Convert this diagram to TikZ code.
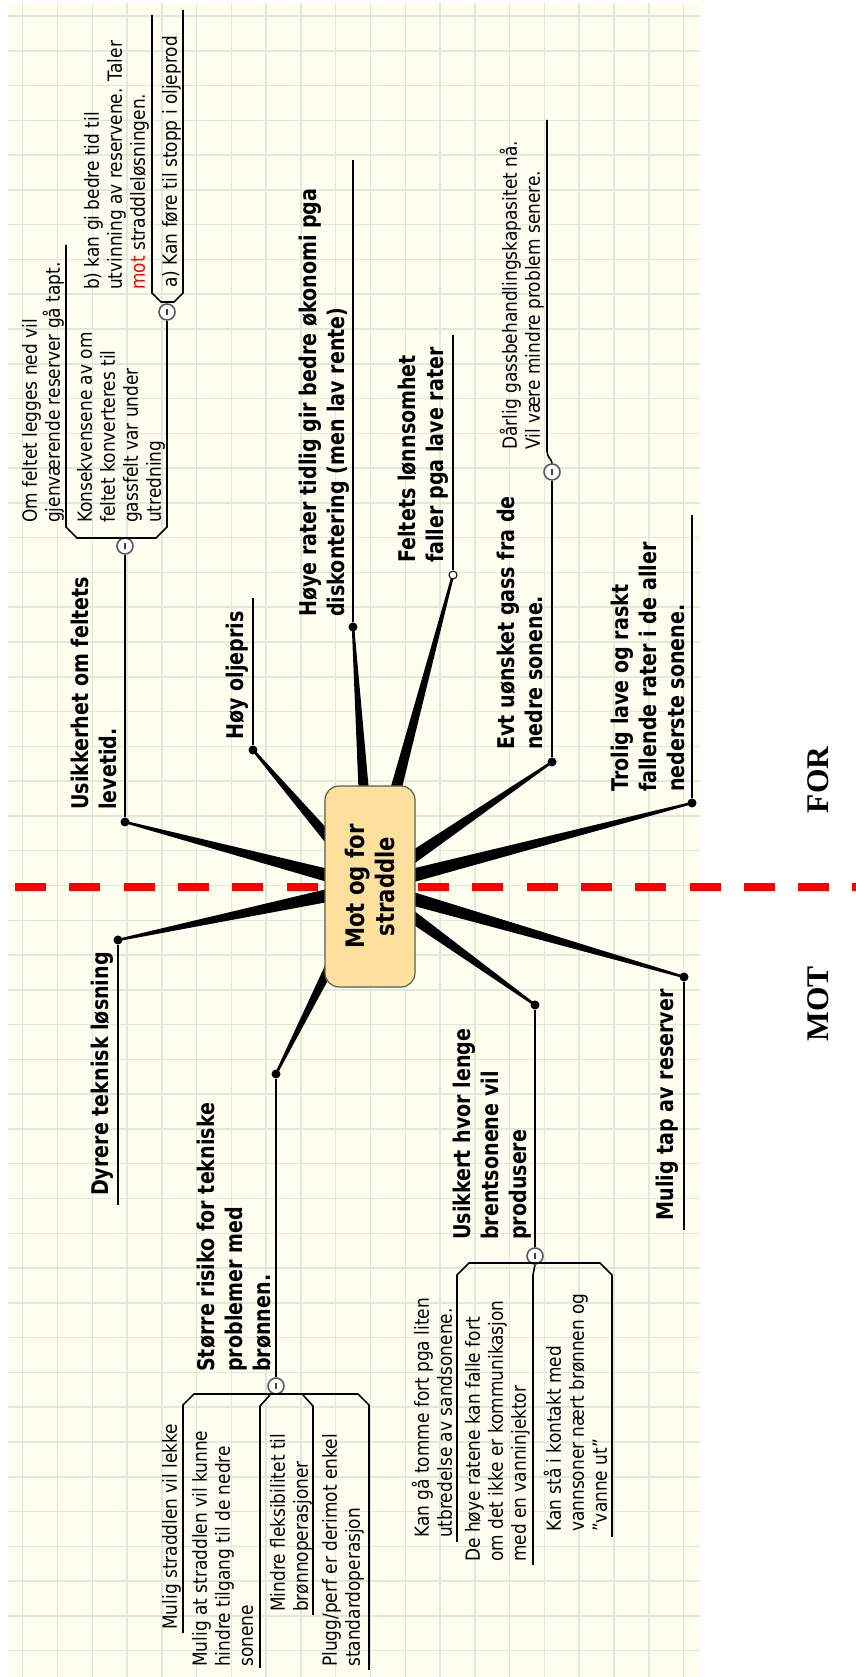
\documentclass[tikz,border=0pt]{standalone}
\usepackage{fontspec}
\setmainfont{DejaVu Sans}[FakeStretch=0.87, BoldFeatures={FakeStretch=0.83}]
\newfontfamily\sidefont{Liberation Serif}
\usetikzlibrary{calc}
\definecolor{paperc}{HTML}{FEFEF0}
\definecolor{gridc}{HTML}{E0E9DC}
\definecolor{hubfill}{HTML}{FDE09E}
\definecolor{hubline}{HTML}{5C5C4C}
\definecolor{knobline}{HTML}{5A5A5A}
\definecolor{dividerc}{HTML}{FF0000}

\newcommand\dpfix{\rule[-6pt]{0pt}{6pt}}
\newcommand\spoke[2]{\fill ($(#1)!7.5pt!90:(#2)$) -- ($(#2)!1.2pt!-90:(#1)$)
  -- ($(#2)!1.2pt!90:(#1)$) -- ($(#1)!7.5pt!-90:(#2)$) -- cycle;}
\newcommand\knobmark[1]{\draw[line width=1.6pt, black!75]
  ($(#1.west)!0.32!(#1.east)$) -- ($(#1.west)!0.68!(#1.east)$);}

\tikzset{
  hub/.style={draw=hubline, line width=1.2pt, fill=hubfill, rounded corners=14pt,
    minimum width=201pt, minimum height=90pt, align=center, inner sep=0pt,
    font=\bfseries\fontsize{25.5}{30}\selectfont},
  topic/.style={inner sep=0pt, align=left, execute at end node=\dpfix,
    font=\bfseries\fontsize{23}{28}\selectfont},
  subtopic/.style={inner sep=0pt, align=left, execute at end node=\dpfix,
    font=\fontsize{19.5}{23}\selectfont},
  dot/.style={circle, fill=black, inner sep=0pt, minimum size=9pt},
  opendot/.style={circle, draw=black, line width=1pt, fill=white, inner sep=0pt, minimum size=8pt},
  knob/.style={circle, draw=knobline, line width=1.6pt, fill=white, inner sep=0pt, minimum size=16pt},
  rule/.style={line width=1.6pt, black},
  divider/.style={dividerc, line width=7.5pt, dash pattern=on 31pt off 23.3pt},
  side/.style={anchor=base, font=\sidefont\bfseries\fontsize{31.5}{36}\selectfont},
}

\begin{document}
\begin{tikzpicture}[x=1pt, y=1pt]
  \useasboundingbox (0,0) rectangle (855,1677);
  \fill[white] (0,0) rectangle (855,1677);
  \fill[paperc] (8,0) rectangle (700,1674);
  \foreach \k in {0,...,19}
    \draw[gridc, line width=1.5pt] ({22.7+34.78*\k},0) -- ++(0,1674);
  \foreach \k in {0,...,47}
    \draw[gridc, line width=1.5pt] (8,{1661-34.78*\k}) -- (700,{1661-34.78*\k});

  % the map is laid out lying on its side
  \begin{scope}[rotate=90, transform shape, y=-1pt]
    \coordinate (hubc) at (790.5,370);
    \node[dot] (d1) at (855,125) {};
    \node[dot] (d2) at (927,253) {};
    \node[dot] (d3) at (1050,353) {};
    \coordinate (c4) at (1102,453);
    \node[dot] (d5) at (915,552) {};
    \node[dot] (d6) at (874,692) {};
    \node[dot] (d7) at (737,118) {};
    \node[dot] (d8) at (603,276) {};
    \node[dot] (d9) at (672,535) {};
    \node[dot] (d10) at (700,684) {};
    \foreach \e in {d1,d2,d3,c4,d5,d6,d7,d8,d9,d10} {\spoke{hubc}{\e}}
    \node[opendot] (d4) at (c4) {};

    \draw[divider] (790,15) -- (790,326);
    \draw[divider] (790,418) -- (790,860);
    \node[hub] (hub) at (hubc) {Mot og for\\straddle};

    % FOR
    \node[topic, anchor=south west] (t1) at (867,123) {Usikkerhet om feltets\\levetid.};
    \node[knob] (k1) at (1131,125) {}; \knobmark{k1}
    \draw[rule] (d1) -- (k1);
    \node[subtopic, anchor=south west] (t1a) at (1154,66) {Om feltet legges ned vil\\gjenværende reserver gå tapt.};
    \node[subtopic, anchor=south west] (t1b) at (1154,167) {Konsekvensene av om\\feltet konverteres til\\gassfelt var under\\utredning};
    \node[knob] (k1b) at (1365,167) {}; \knobmark{k1b}
    \coordinate (e1a) at (1432,66);
    \draw[rule] (e1a) -- (1150,66) -- (1139,77) -- (1139,156) -- (1150,167) -- (k1b);
    \node[subtopic, anchor=south west] (t1c) at (1387,151) {b) kan gi bedre tid til\\utvinning av reservene. Taler\\\textcolor{red}{mot} straddleløsningen.};
    \node[subtopic, anchor=south west] (t1d) at (1389,183) {a) Kan føre til stopp i oljeprod};
    \coordinate (e1c) at (1662,152);
    \coordinate (e1d) at (1667,183);
    \draw[rule] (e1c) -- (1384,152) -- (1375,161) -- (1375,174) -- (1384,183) -- (e1d);

    \node[topic, anchor=south west] (t2) at (937,250) {Høy oljepris};
    \coordinate (e2) at (1079,253);
    \draw[rule] (d2) -- (e2);

    \node[topic, anchor=south west] (t3) at (1060,351) {Høye rater tidlig gir bedre økonomi pga\\diskontering (men lav rente)};
    \coordinate (e3) at (1517,353);
    \draw[rule] (d3) -- (e3);

    \node[topic, anchor=south west] (t4) at (1114,450) {Feltets lønnsomhet\\faller pga lave rater};
    \coordinate (e4) at (1342,453);
    \draw[rule] (d4) -- (e4);

    \node[topic, anchor=south west] (t5) at (927,549) {Evt uønsket gass fra de\\nedre sonene.};
    \node[knob] (k5) at (1205,552) {}; \knobmark{k5}
    \draw[rule] (d5) -- (k5);
    \node[subtopic, anchor=south west] (t5a) at (1227,546) {Dårlig gassbehandlingskapasitet nå.\\Vil være mindre problem senere.};
    \coordinate (e5a) at (1557,547);
    \draw[rule] (k5.east) .. controls (1218,552) and (1219,547) .. (1226,547) -- (e5a);

    \node[topic, anchor=south west] (t6) at (885,691) {Trolig lave og raskt\\fallende rater i de aller\\nederste sonene.};
    \coordinate (e6) at (1162,692);
    \draw[rule] (d6) -- (e6);

    % MOT
    \node[topic, anchor=south east] (t7) at (725,115) {Dyrere teknisk løsning};
    \coordinate (e7) at (472,118);
    \draw[rule] (d7) -- (e7);

    \node[topic, anchor=south west] (t8) at (305,277) {Større risiko for tekniske\\problemer med\\brønnen.};
    \node[knob] (k8) at (291,276) {}; \knobmark{k8}
    \draw[rule] (d8) -- (k8);
    \node[subtopic, anchor=south west] (t8a) at (47,183) {Mulig straddlen vil lekke};
    \node[subtopic, anchor=south west] (t8b) at (10,259) {Mulig at straddlen vil kunne\\hindre tilgang til de nedre\\sonene};
    \node[subtopic, anchor=south west] (t8c) at (65,314) {Mindre fleksibilitet til\\brønnoperasjoner};
    \node[subtopic, anchor=south west] (t8d) at (10,366) {Plugg/perf er derimot enkel\\standardoperasjon};
    \coordinate (e8a) at (44,183);
    \coordinate (e8b) at (9,260);
    \coordinate (e8c) at (62,313);
    \coordinate (e8d) at (7,369);
    \draw[rule] (e8a) -- (272,183) -- (283,194) -- (283,358) -- (272,369) -- (e8d);
    \draw[rule] (e8b) -- (271,260) -- (282,270);
    \draw[rule] (e8c) -- (271,313) -- (282,303);

    \node[topic, anchor=south west] (t9) at (437,533) {Usikkert hvor lenge\\brentsonene vil\\produsere};
    \node[knob] (k9) at (421,535) {}; \knobmark{k9}
    \draw[rule] (d9) -- (k9);
    \node[subtopic, anchor=south west] (t9a) at (139,458) {Kan gå tomme fort pga liten\\utbredelse av sandsonene.};
    \node[subtopic, anchor=south west] (t9b) at (115,532) {De høye ratene kan falle fort\\om det ikke er kommunikasjon\\med en vanninjektor};
    \node[subtopic, anchor=south west] (t9c) at (145,613) {Kan stå i kontakt med\\vannsoner nært brønnen og\\"vanne ut"};
    \coordinate (e9a) at (135,457);
    \coordinate (e9b) at (112,533);
    \coordinate (e9c) at (140,612);
    \draw[rule] (e9a) -- (402,457) -- (414,469) -- (414,600) -- (402,612) -- (e9c);
    \draw[rule] (k9.west) -- (402,533) -- (e9b);

    \node[topic, anchor=south east] (t10) at (688,680) {Mulig tap av reserver};
    \coordinate (e10) at (447,684);
    \draw[rule] (d10) -- (e10);

    \node[side] (lfor) at (897,828) {FOR};
    \node[side] (lmot) at (673,828) {MOT};
  \end{scope}
\end{tikzpicture}
\end{document}
